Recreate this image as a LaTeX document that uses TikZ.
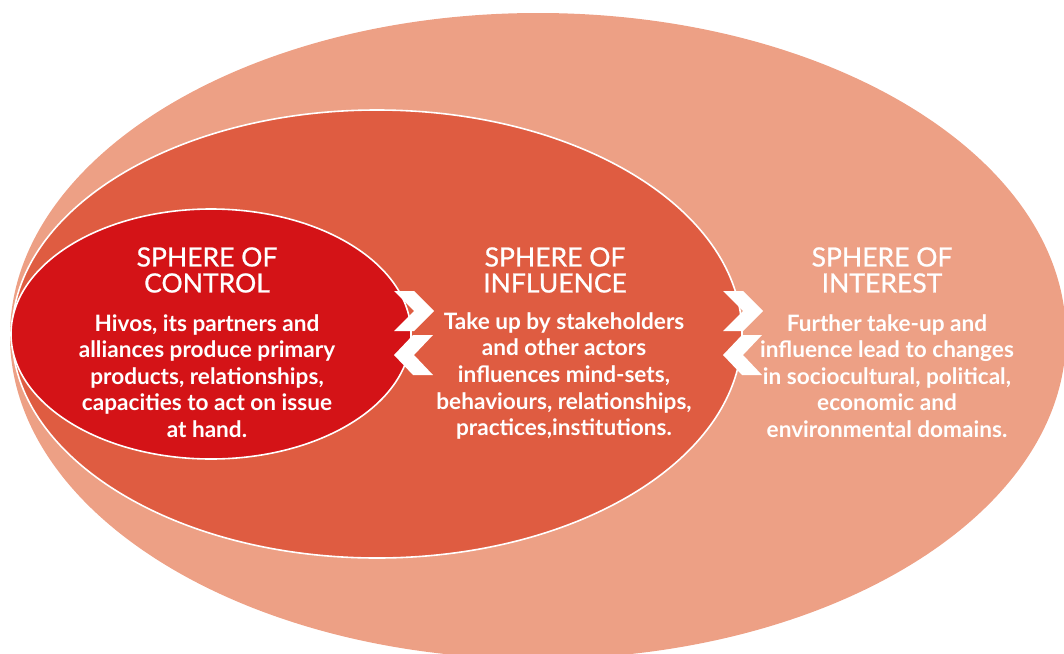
\documentclass[tikz,border=0pt]{standalone}
\usepackage{fontspec}
\setmainfont{Lato}
\newfontfamily\titlefont[FakeBold=0.8]{Lato}
\definecolor{outerc}{HTML}{EDA085}
\definecolor{midc}{HTML}{DF5C41}
\definecolor{innerc}{HTML}{D41317}
\begin{document}
\begin{tikzpicture}[x=1pt,y=-1pt,
  titletext/.style={text=white,align=center,font=\titlefont\fontsize{26.5}{26}\selectfont,inner sep=0pt},
  bodytext/.style={text=white,align=center,font=\bfseries\fontsize{22.6}{26.6}\selectfont,inner sep=0pt},
  chev/.style={fill=white,draw=none}]
\useasboundingbox (0,0) rectangle (1064,653);
\clip (0,0) rectangle (1064,653);
% outer sphere
\fill[outerc] (538,336) ellipse [x radius=528, y radius=323];
% middle sphere
\filldraw[fill=midc,draw=white,line width=1.6pt] (377,334) ellipse [x radius=365, y radius=224];
% inner sphere
\filldraw[fill=innerc,draw=white,line width=1.6pt] (211,334) ellipse [x radius=200, y radius=125];
% chevrons between control and influence
\fill[chev] (394,291) -- (414,291) -- (434,311) -- (414,331) -- (394,331) -- (414,311) -- cycle;
\fill[chev] (433,335) -- (413,335) -- (394,355) -- (413,375) -- (433,375) -- (414,355) -- cycle;
% chevrons between influence and interest
\fill[chev] (723,291) -- (743,291) -- (763,311) -- (743,331) -- (723,331) -- (743,311) -- cycle;
\fill[chev] (762,335) -- (742,335) -- (723,355) -- (742,375) -- (762,375) -- (743,355) -- cycle;
% texts
\node[titletext] (tcontrol) at (207,270) {SPHERE OF\\CONTROL};
\node[titletext] (tinfluence) at (555,270) {SPHERE OF\\INFLUENCE};
\node[titletext] (tinterest) at (882,270) {SPHERE OF\\INTEREST};
\node[bodytext] (bcontrol) at (207,376) {Hivos, its partners and\\alliances produce primary\\products, relationships,\\capacities to act on issue\\at hand.};
\node[bodytext] (binfluence) at (564,376) {Take up by stakeholders\\and other actors\\influences mind-sets,\\behaviours, relationships,\\practices,institutions.};
\node[bodytext] (binterest) at (887,376) {Further take-up and\\influence lead to changes\\in sociocultural, political,\\economic and\\environmental domains.};
\end{tikzpicture}
\end{document}
